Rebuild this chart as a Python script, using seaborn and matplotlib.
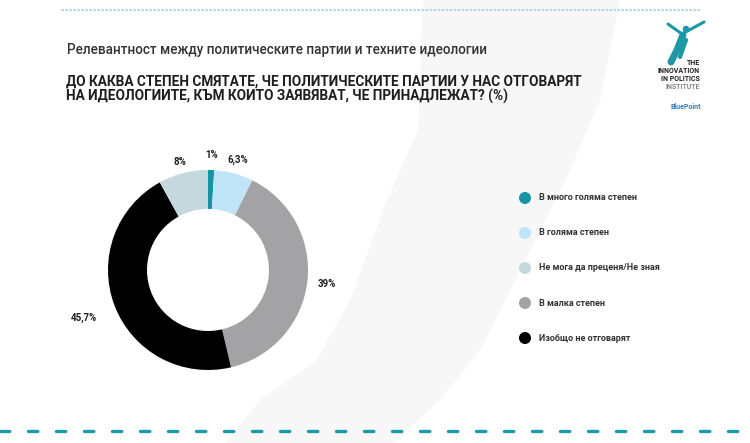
import matplotlib
matplotlib.use("Agg")
import matplotlib.pyplot as plt
import seaborn as sns
import pandas as pd
import numpy as np
from matplotlib.patches import Polygon

# ---- data ----
categories = ["В много голяма степен", "В голяма степен", "Не мога да преценя/Не зная",
              "В малка степен", "Изобщо не отговарят"]
# pie order (clockwise from top)
pie_order = ["В много голяма степен", "В голяма степен", "В малка степен",
             "Изобщо не отговарят", "Не мога да преценя/Не зная"]
pie_values = [1.0, 6.3, 39.0, 45.7, 8.0]
pie_labels = ["1%", "6,3%", "39%", "45,7%", "8%"]
colors = {"В много голяма степен": "#1794a4",
          "В голяма степен": "#bfe4f7",
          "Не мога да преценя/Не зная": "#c4d8de",
          "В малка степен": "#a3a3a5",
          "Изобщо не отговарят": "#000000"}

title_text = "Релевантност между политическите партии и техните идеологии"
question_lines = ["ДО КАКВА СТЕПЕН СМЯТАТЕ, ЧЕ ПОЛИТИЧЕСКИТЕ ПАРТИИ У НАС ОТГОВАРЯТ",
                  "НА ИДЕОЛОГИИТЕ, КЪМ КОИТО ЗАЯВЯВАТ, ЧЕ ПРИНАДЛЕЖАТ? (%)"]

sns.set_theme(style="white")
plt.rcParams['font.family'] = ['Roboto', 'DejaVu Sans']

W, H = 750, 443
fig = plt.figure(figsize=(7.5, 4.43), dpi=100)
fig.patch.set_facecolor("white")

# overlay in pixel coords
bg = fig.add_axes([0, 0, 1, 1])
bg.set_xlim(0, W)
bg.set_ylim(H, 0)
bg.axis("off")

# faint background silhouette
shape = [(423, 0), (620, 0), (600, 100), (570, 170), (530, 250), (480, 350),
         (440, 400), (394, 443), (226, 443), (260, 400), (317, 360), (350, 300),
         (387, 200), (418, 130)]
bg.add_patch(Polygon(shape, closed=True, facecolor="#f7f7f7", edgecolor="none", zorder=0))

# top dotted line
bg.plot([62, 700], [10, 10], color="#a3d2d9", lw=1.2, linestyle=(0, (0.8, 1.6)),
        dash_capstyle="round", zorder=1)
# bottom dashed line
bg.plot([0, W], [431, 431], color="#1a9aa2", lw=2.4, linestyle=(0, (2.8, 5.6)),
        dash_capstyle="round", solid_capstyle="round", zorder=1)

# titles
t_title = bg.text(67, 50, title_text, fontsize=10, color="#333333", ha="left", va="center",
                  fontweight="medium")
t_q1 = bg.text(66, 82, question_lines[0], fontsize=10, color="#1e1e1e", ha="left",
               va="center", fontweight="bold")
t_q2 = bg.text(66, 96, question_lines[1], fontsize=10, color="#1e1e1e", ha="left",
               va="center", fontweight="bold")

fig.canvas.draw()
r = fig.canvas.get_renderer()
for t, target in [(t_title, 418), (t_q1, 513), (t_q2, 442)]:
    w = t.get_window_extent(r).width
    t.set_fontsize(t.get_fontsize() * target / w)

# logo
bg.plot([668, 682, 704], [24, 34, 22], color="#1c97a3", lw=2.2, solid_capstyle="round")
bg.plot([683, 677, 671], [35, 50, 62], color="#1c97a3", lw=5, solid_capstyle="round")
bg.plot([686, 680], [40, 57], color="#1c97a3", lw=3, solid_capstyle="round")
bg.scatter([686], [29], s=22, color="#1c97a3", edgecolor="none")
for txt, yy, col in [("THE", 63, "#222222"), ("INNOVATION", 71, "#222222"),
                     ("IN POLITICS", 79, "#222222"), ("INSTITUTE", 87, "#888888")]:
    bg.text(700, yy, txt, fontsize=5, fontweight="bold", color=col, ha="right",
            va="center", family=["Roboto"])
bg.text(686, 107, "BluePoint", fontsize=5, fontweight="bold", color="#2d7cc0",
        ha="center", va="center")

# ---- donut ----
cx, cy, R = 208, 270, 100
ax = fig.add_axes([(cx - 110) / W, (H - cy - 110) / H, 220 / W, 220 / H])
ax.set_facecolor("none")
wedges, _ = ax.pie(pie_values, colors=[colors[c] for c in pie_order], startangle=90,
                   counterclock=False, radius=1.0,
                   wedgeprops=dict(width=0.39, edgecolor="none"))
ax.set_xlim(-1.1, 1.1)
ax.set_ylim(-1.1, 1.1)
ax.set_aspect("auto")
ax.axis("off")

label_dist = [1.15, 1.14, 1.2, 1.33, 1.12]
for w, lab, d in zip(wedges, pie_labels, label_dist):
    ang = np.deg2rad((w.theta1 + w.theta2) / 2)
    ax.text(d * np.cos(ang), d * np.sin(ang), lab, ha="center", va="center",
            fontsize=7, fontweight="bold", color="#1e1e1e")

# ---- legend ----
lax = fig.add_axes([515 / W, (H - 356) / H, 220 / W, 176 / H])
lax.set_facecolor("none")
leg_df = pd.DataFrame({"x": [10] * len(categories), "y": list(range(len(categories))),
                       "cat": categories})
sns.scatterplot(data=leg_df, x="x", y="y", hue="cat", palette=colors, s=75,
                edgecolor="none", legend=False, ax=lax)
lax.set_xlim(0, 220)
lax.set_ylim(4.514, -0.514)
lax.axis("off")
leg_texts = []
for i, c in enumerate(categories):
    leg_texts.append(lax.text(24, i, c, ha="left", va="center", fontsize=7, color="#333333",
                              fontweight="bold", family=["Roboto", "DejaVu Sans"]))
fig.canvas.draw()
r = fig.canvas.get_renderer()
scale = 98 / leg_texts[0].get_window_extent(r).width
for t in leg_texts:
    t.set_fontsize(t.get_fontsize() * scale)

fig.savefig("out.png", dpi=100)
